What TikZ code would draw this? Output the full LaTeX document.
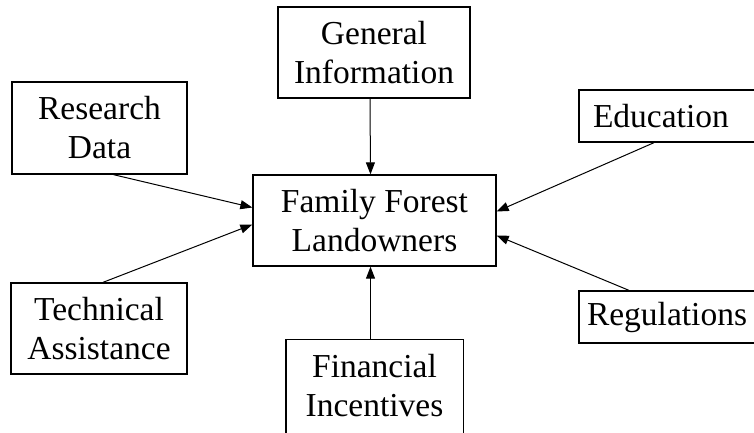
\documentclass[tikz,border=0pt]{standalone}
\usepackage{fontspec}
\setmainfont{Liberation Serif}
\usetikzlibrary{arrows.meta}
\begin{document}
\begin{tikzpicture}[x=1pt,y=-1pt,
  box/.style={draw, line width=1.3pt, inner sep=0pt, align=center,
    font=\fontsize{33.5}{39}\selectfont},
  conn/.style={line width=1pt, -{Triangle[length=12pt,width=9pt]}}]
\useasboundingbox (0,0) rectangle (754,432);
\clip (0,0) rectangle (754,432);
\node (gen) [box, minimum width=192, minimum height=91] at (374,52.5) {General\\Information};
\node (res) [box, minimum width=175, minimum height=92] at (99.5,128) {Research\\Data};
\node (edu) [box, minimum width=200, minimum height=52, text width=200, align=left] at (679,116) {\hspace*{14pt}Education};
\node (fam) [box, minimum width=243, minimum height=91] at (374.5,220.5) {Family Forest\\Landowners};
\node (tech) [box, minimum width=176, minimum height=91] at (99,328.5) {Technical\\Assistance};
\node (fin) [box, draw=none, minimum width=176, minimum height=92] at (374.5,386) {Financial\\Incentives};
\draw[line width=1.3pt] (fin.north west) rectangle ([yshift=-20pt]fin.south east);
\node (reg) [box, minimum width=200, minimum height=52, text width=200, align=left] at (679,317) {\hspace*{8pt}Regulations};
\draw[conn] ([xshift=-4pt]gen.south) -- ([xshift=-4pt]fam.north);
\draw[conn] ([xshift=-4pt]fin.north) -- ([xshift=-4pt]fam.south);
\draw[conn] ([xshift=14pt]res.south) -- ([yshift=13pt]fam.west);
\draw[conn] ([xshift=4pt]tech.north) -- ([yshift=-4pt]fam.west);
\draw[conn] ([xshift=-25pt]edu.south) -- ([yshift=9pt]fam.east);
\draw[conn] ([xshift=-50pt]reg.north) -- ([yshift=-15pt]fam.east);
\end{tikzpicture}
\end{document}
